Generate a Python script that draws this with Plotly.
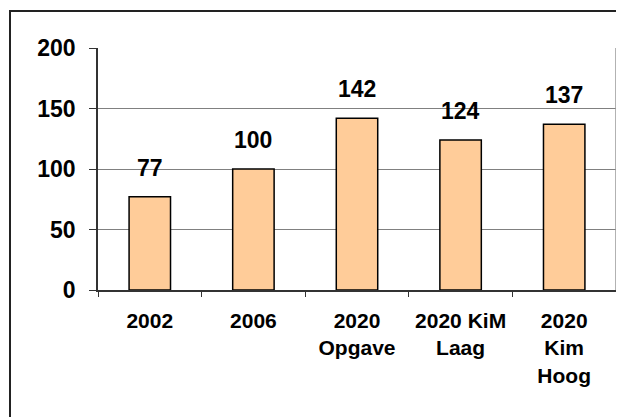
import plotly.graph_objects as go

categories = ["2002", "2006", "2020<br>Opgave", "2020 KiM<br>Laag", "2020<br>Kim<br>Hoog"]
values = [77, 100, 142, 124, 137]
y_ticks = [0, 50, 100, 150, 200]

FONT = "Arial, Liberation Sans, sans-serif"

# plot area (figure px): left 90, top 40, width 518, height 242
L, T, W, H = 90, 40, 518, 242

fig = go.Figure()
fig.add_trace(go.Bar(
    x=categories, y=values,
    marker=dict(color="#FFCC99", line=dict(color="#000000", width=1.5)),
    hoverinfo="skip",
))

for i, v in enumerate(values):
    fig.add_annotation(x=i, y=v, text=str(v), showarrow=False, yanchor="bottom",
                       yshift=14, font=dict(family=FONT, size=23, color="#000000", weight="bold"))

# outer frame
fig.add_shape(type="rect", xref="paper", yref="paper",
              x0=(2 - L) / W, x1=(700 - L) / W,
              y0=(T + H - 500) / H, y1=(T + H - 3) / H,
              line=dict(color="#222222", width=2), layer="below")
# right border of plot area
fig.add_shape(type="line", xref="paper", yref="paper", x0=1, x1=1, y0=0, y1=1,
              line=dict(color="#999999", width=1.5))

fig.update_layout(
    width=624, height=417,
    margin=dict(l=L, r=624 - L - W, t=T, b=417 - T - H),
    paper_bgcolor="white", plot_bgcolor="white",
    showlegend=False, bargap=0.6,
    font=dict(family=FONT, color="#000000"),
)
fig.update_xaxes(
    type="category", range=[-0.5, 4.5], tickson="boundaries", ticks="outside", ticklen=5,
    tickcolor="#333333", showline=True, linecolor="#333333", linewidth=1.5,
    showgrid=False, ticklabelstandoff=11, tickangle=0,
    tickfont=dict(family=FONT, size=21, color="#000000", weight="bold"),
)
fig.update_yaxes(
    range=[0, 200], tickvals=y_ticks, ticks="outside", ticklen=7,
    tickcolor="#333333", showline=True, linecolor="#333333", linewidth=1.5,
    showgrid=True, gridcolor="#808080", gridwidth=1, zeroline=False,
    ticklabelstandoff=9,
    tickfont=dict(family=FONT, size=23, color="#000000", weight="bold"),
)

fig.write_html("out.html")
